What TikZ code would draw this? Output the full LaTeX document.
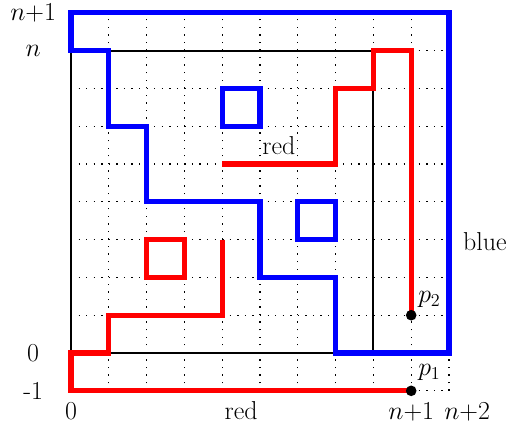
\documentclass[tikz,border=0pt]{standalone}
\usepackage{fix-cm}
\usetikzlibrary{positioning}

\begin{document}
\begin{tikzpicture}[x=1cm,y=1cm,font=\fontsize{19.5}{23}\selectfont,
 gridline/.style={line width=1pt,dash pattern=on 1pt off 4.69pt},
 frame/.style={draw=black,line width=1.4pt},
 bluepath/.style={draw=blue,line width=3.8pt},
 redpath/.style={draw=red,line width=3.8pt},
 pt/.style={circle,fill=black,inner sep=0pt,minimum size=8pt},
 lab/.style={inner sep=0pt}]
\useasboundingbox (-1.878,-1.958) rectangle (11.667,9.339);
% grid and the n x n square
\draw[gridline] (0,-1) grid (10,9);
\draw[frame] (0,0) rectangle (8,8);
% blue curve
\draw[bluepath] (0,8) -- (0,9) -- (10,9) -- (10,0) -- (7,0) -- (7,2) -- (5,2) -- (5,4)
  -- (2,4) -- (2,6) -- (1,6) -- (1,8) -- cycle;
\draw[bluepath] (4,6) rectangle (5,7);
\draw[bluepath] (6,3) rectangle (7,4);
% red curve
\draw[redpath] (4,5) -- (7,5) -- (7,7) -- (8,7) -- (8,8) -- (9,8) -- (9,1);
\draw[redpath] (4,3) -- (4,1) -- (1,1) -- (1,0) -- (0,0) -- (0,-1) -- (9,-1);
\draw[redpath] (2,2) rectangle (3,3);
% points
\node[pt] (p2) at (9,1) {};
\node[pt] (p1) at (9,-1) {};
\node[lab,anchor=south west] (lp2) at (9.18,1.2) {$p_2$};
\node[lab,anchor=south west] (lp1) at (9.18,-0.74) {$p_1$};
% labels
\node (ynp) at (-1,9) {$n{+}1$};
\node (yn) at (-1,8) {$n$};
\node (y0) at (-1,0) {0};
\node (ym) at (-1,-1) {-1};
\node[lab,anchor=base] (x0) at (0,-1.77) {0};
\node[lab,anchor=base] (xred) at (4.5,-1.77) {red};
\node[lab,anchor=base] (xnp) at (9,-1.77) {$n{+}1$};
\node[lab,anchor=base] (xnpp) at (10.48,-1.77) {$n{+}2$};
\node[lab,anchor=base] (lred) at (5.5,5.24) {red};
\node[lab,anchor=base west] (lblue) at (10.37,2.72) {blue};
\end{tikzpicture}
\end{document}
